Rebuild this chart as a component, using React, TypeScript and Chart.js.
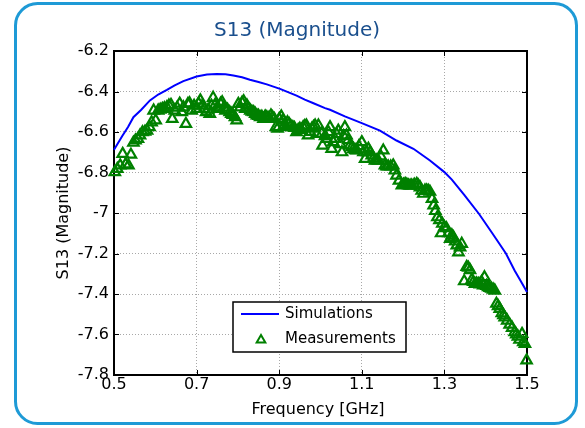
import React, { useEffect, useRef } from "react";
import { Chart, registerables } from "chart.js";
Chart.register(...registerables);

const titleText = "S13 (Magnitude)";
const xTitle = "Frequency [GHz]";
const yTitle = "S13 (Magnitude)";
const legendLabels = ["Simulations", "Measurements"];

const xTicks = [0.5, 0.7, 0.9, 1.1, 1.3, 1.5];
const yTicks = [-7.8, -7.6, -7.4, -7.2, -7.0, -6.8, -6.6, -6.4, -6.2];

const simFreq = [
  0.5, 0.52, 0.534, 0.547, 0.566, 0.587, 0.607, 0.628, 0.647, 0.668, 0.7, 0.725,
  0.749, 0.77, 0.789, 0.81, 0.829, 0.85, 0.87, 0.902, 0.942, 0.962, 0.983, 1.011,
  1.023, 1.059, 1.1, 1.144, 1.184, 1.225, 1.265, 1.3, 1.318, 1.348, 1.384, 1.416,
  1.449, 1.47, 1.483, 1.5,
];
const simVal = [
  -6.688, -6.62, -6.575, -6.527, -6.49, -6.444, -6.415, -6.392, -6.37, -6.349, -6.326, -6.316,
  -6.313, -6.315, -6.321, -6.33, -6.342, -6.353, -6.365, -6.387, -6.42, -6.44, -6.458, -6.482,
  -6.49, -6.523, -6.556, -6.593, -6.642, -6.683, -6.741, -6.798, -6.835, -6.91, -7.005, -7.1,
  -7.2, -7.284, -7.33, -7.39,
];

const measFreq = [
  0.502, 0.508, 0.515, 0.521, 0.528, 0.535, 0.541, 0.547, 0.552, 0.558, 0.563, 0.569,
  0.575, 0.58, 0.586, 0.591, 0.596, 0.601, 0.607, 0.612, 0.617, 0.622, 0.628, 0.633,
  0.638, 0.641, 0.647, 0.653, 0.659, 0.664, 0.668, 0.674, 0.679, 0.683, 0.688, 0.694,
  0.7, 0.705, 0.709, 0.714, 0.718, 0.723, 0.728, 0.732, 0.736, 0.74, 0.745, 0.75,
  0.754, 0.758, 0.762, 0.766, 0.77, 0.775, 0.78, 0.784, 0.788, 0.793, 0.797, 0.801,
  0.806, 0.81, 0.814, 0.818, 0.822, 0.826, 0.83, 0.834, 0.838, 0.842, 0.846, 0.85,
  0.854, 0.858, 0.862, 0.866, 0.87, 0.875, 0.88, 0.884, 0.888, 0.892, 0.896, 0.9,
  0.905, 0.909, 0.912, 0.916, 0.92, 0.924, 0.928, 0.933, 0.937, 0.942, 0.946, 0.95,
  0.954, 0.958, 0.962, 0.966, 0.97, 0.975, 0.979, 0.983, 0.987, 0.991, 0.995, 1.003,
  1.005, 1.011, 1.015, 1.019, 1.023, 1.027, 1.031, 1.035, 1.039, 1.043, 1.048, 1.052,
  1.056, 1.059, 1.063, 1.067, 1.071, 1.076, 1.08, 1.084, 1.088, 1.093, 1.1, 1.104,
  1.108, 1.112, 1.116, 1.12, 1.124, 1.128, 1.132, 1.136, 1.14, 1.146, 1.152, 1.156,
  1.16, 1.164, 1.17, 1.176, 1.18, 1.184, 1.19, 1.197, 1.201, 1.205, 1.209, 1.213,
  1.217, 1.221, 1.227, 1.233, 1.237, 1.241, 1.245, 1.249, 1.253, 1.257, 1.261, 1.265,
  1.27, 1.274, 1.278, 1.283, 1.288, 1.292, 1.295, 1.3, 1.305, 1.31, 1.314, 1.318,
  1.322, 1.326, 1.33, 1.334, 1.338, 1.342, 1.348, 1.354, 1.358, 1.362, 1.366, 1.37,
  1.374, 1.378, 1.382, 1.386, 1.39, 1.394, 1.397, 1.402, 1.406, 1.41, 1.414, 1.418,
  1.422, 1.426, 1.43, 1.434, 1.439, 1.443, 1.446, 1.452, 1.458, 1.464, 1.47, 1.474,
  1.478, 1.482, 1.488, 1.491, 1.495, 1.499,
];
const measVal = [
  -6.798, -6.782, -6.765, -6.708, -6.76, -6.765, -6.712, -6.653, -6.642, -6.634, -6.617, -6.601,
  -6.598, -6.593, -6.576, -6.552, -6.494, -6.543, -6.494, -6.49, -6.486, -6.482, -6.478, -6.469,
  -6.466, -6.535, -6.494, -6.48, -6.46, -6.502, -6.478, -6.56, -6.461, -6.458, -6.494, -6.47,
  -6.486, -6.46, -6.444, -6.47, -6.486, -6.502, -6.49, -6.51, -6.47, -6.431, -6.465, -6.478,
  -6.486, -6.46, -6.453, -6.48, -6.494, -6.49, -6.502, -6.51, -6.515, -6.527, -6.543, -6.461,
  -6.478, -6.455, -6.448, -6.486, -6.469, -6.485, -6.494, -6.5, -6.502, -6.51, -6.518, -6.52,
  -6.527, -6.525, -6.535, -6.523, -6.527, -6.53, -6.518, -6.527, -6.535, -6.576, -6.584, -6.535,
  -6.523, -6.543, -6.568, -6.576, -6.552, -6.56, -6.57, -6.576, -6.58, -6.601, -6.59, -6.584,
  -6.59, -6.576, -6.57, -6.568, -6.617, -6.6, -6.584, -6.575, -6.568, -6.609, -6.568, -6.609,
  -6.667, -6.62, -6.634, -6.6, -6.576, -6.683, -6.65, -6.634, -6.61, -6.593, -6.66, -6.7,
  -6.62, -6.576, -6.617, -6.64, -6.667, -6.675, -6.683, -6.69, -6.691, -6.67, -6.65, -6.7,
  -6.733, -6.7, -6.683, -6.7, -6.716, -6.73, -6.741, -6.74, -6.741, -6.72, -6.691, -6.765,
  -6.77, -6.77, -6.77, -6.765, -6.79, -6.815, -6.84, -6.864, -6.86, -6.856, -6.86, -6.864,
  -6.865, -6.864, -6.86, -6.856, -6.864, -6.873, -6.89, -6.905, -6.889, -6.889, -6.89, -6.895,
  -6.93, -6.963, -6.99, -7.021, -7.035, -7.1, -7.053, -7.07, -7.075, -7.1, -7.128, -7.11,
  -7.12, -7.14, -7.16, -7.194, -7.17, -7.152, -7.337, -7.266, -7.27, -7.282, -7.33, -7.34,
  -7.35, -7.348, -7.35, -7.352, -7.34, -7.358, -7.317, -7.36, -7.366, -7.37, -7.374, -7.378,
  -7.383, -7.448, -7.46, -7.473, -7.495, -7.505, -7.515, -7.531, -7.551, -7.567, -7.589, -7.6,
  -7.61, -7.626, -7.597, -7.638, -7.646, -7.728,
];

const W = 585;
const H = 428;
const FONT = "'DejaVu Sans', sans-serif";
const PLOT_LEFT = 114;
const PLOT_RIGHT = 527;
const PLOT_TOP = 51;
const PLOT_BOTTOM = 375;

const fmt = (v: number) => String(Number(v.toFixed(1)));

export default function App() {
  const ref = useRef<HTMLCanvasElement>(null);

  useEffect(() => {
    const canvas = ref.current;
    if (!canvas) return;

    const deco = {
      id: "deco",
      beforeDraw(chart: any) {
        const ctx = chart.ctx;
        ctx.save();
        ctx.fillStyle = "#ffffff";
        ctx.fillRect(0, 0, W, H);
        ctx.strokeStyle = "#1e9ad6";
        ctx.lineWidth = 3;
        ctx.beginPath();
        (ctx as any).roundRect(15.5, 3.5, 561, 420, 22);
        ctx.stroke();
        ctx.restore();
      },
      beforeDatasetsDraw(chart: any) {
        const ctx = chart.ctx;
        const { left, right, top, bottom } = chart.chartArea;
        const xs = chart.scales.x;
        const ys = chart.scales.y;
        ctx.save();
        ctx.strokeStyle = "#000";
        ctx.lineWidth = 1;
        const tl = 5;
        ctx.beginPath();
        for (const v of xTicks) {
          const px = Math.round(xs.getPixelForValue(v)) + 0.5;
          ctx.moveTo(px, bottom);
          ctx.lineTo(px, bottom - tl);
          ctx.moveTo(px, top);
          ctx.lineTo(px, top + tl);
        }
        for (const v of yTicks) {
          const py = Math.round(ys.getPixelForValue(v)) + 0.5;
          ctx.moveTo(left, py);
          ctx.lineTo(left + tl, py);
          ctx.moveTo(right, py);
          ctx.lineTo(right - tl, py);
        }
        ctx.stroke();
        ctx.lineWidth = 2;
        ctx.strokeRect(left, top, right - left, bottom - top);
        ctx.restore();
      },
      afterDatasetsDraw(chart: any) {
        const ctx = chart.ctx;
        ctx.save();
        // title
        ctx.fillStyle = "#1a4f8d";
        ctx.font = `20px ${FONT}`;
        ctx.textAlign = "center";
        ctx.textBaseline = "middle";
        ctx.fillText(titleText, 297, 31);
        // axis titles
        ctx.fillStyle = "#000";
        ctx.font = `16px ${FONT}`;
        ctx.fillText(xTitle, 318, 410);
        ctx.save();
        ctx.translate(64, 213);
        ctx.rotate(-Math.PI / 2);
        ctx.fillText(yTitle, 0, 0);
        ctx.restore();
        // legend
        const lx = 233, ly = 302, lw = 173, lh = 50;
        ctx.fillStyle = "#fff";
        ctx.fillRect(lx, ly, lw, lh);
        ctx.strokeStyle = "#000";
        ctx.lineWidth = 1.5;
        ctx.strokeRect(lx, ly, lw, lh);
        ctx.strokeStyle = "#0000ff";
        ctx.lineWidth = 2;
        ctx.beginPath();
        ctx.moveTo(241, 314);
        ctx.lineTo(279, 314);
        ctx.stroke();
        ctx.strokeStyle = "#008000";
        ctx.lineWidth = 2;
        const r = 5;
        const tx = 261, ty = 340;
        ctx.beginPath();
        ctx.moveTo(tx, ty - r);
        ctx.lineTo(tx + r * Math.sin((2 * Math.PI) / 3), ty + r / 2);
        ctx.lineTo(tx - r * Math.sin((2 * Math.PI) / 3), ty + r / 2);
        ctx.closePath();
        ctx.stroke();
        ctx.fillStyle = "#000";
        ctx.font = `15px ${FONT}`;
        ctx.textAlign = "left";
        ctx.fillText(legendLabels[0], 285, 314);
        ctx.fillText(legendLabels[1], 285, 339);
        ctx.restore();
      },
    };

    const chart = new Chart(canvas, {
      type: "scatter",
      data: {
        datasets: [
          {
            label: legendLabels[0],
            data: simFreq.map((x, i) => ({ x, y: simVal[i] })),
            showLine: true,
            borderColor: "#0000ff",
            backgroundColor: "#0000ff",
            borderWidth: 2,
            pointRadius: 0,
            tension: 0,
            fill: false,
            clip: false,
          },
          {
            label: legendLabels[1],
            data: measFreq.map((x, i) => ({ x, y: measVal[i] })),
            showLine: false,
            pointStyle: "triangle",
            pointRadius: 6,
            borderColor: "#008000",
            backgroundColor: "rgba(0,0,0,0)",
            pointBorderWidth: 2.2,
            borderWidth: 2.2,
            clip: false,
          },
        ],
      } as any,
      options: {
        animation: false,
        responsive: false,
        maintainAspectRatio: false,
        events: [],
        layout: { padding: { left: 0, right: W - PLOT_RIGHT, top: PLOT_TOP, bottom: 0 } },
        plugins: {
          legend: { display: false },
          title: { display: false },
          tooltip: { enabled: false },
        },
        scales: {
          x: {
            type: "linear",
            min: 0.5,
            max: 1.5,
            afterBuildTicks: (s: any) => {
              s.ticks = xTicks.map((v) => ({ value: v }));
            },
            afterFit: (s: any) => {
              s.height = H - PLOT_BOTTOM;
            },
            ticks: {
              callback: (v: any) => fmt(Number(v)),
              font: { family: FONT, size: 16 },
              color: "#000",
              padding: 0,
              maxRotation: 0,
              autoSkip: false,
            },
            grid: { color: "#a8a8a8", lineWidth: 1, drawTicks: false },
            border: { display: false, dash: [1, 2] },
          },
          y: {
            type: "linear",
            min: -7.8,
            max: -6.2,
            afterBuildTicks: (s: any) => {
              s.ticks = yTicks.map((v) => ({ value: v }));
            },
            afterFit: (s: any) => {
              s.width = PLOT_LEFT;
            },
            ticks: {
              callback: (v: any) => fmt(Number(v)),
              font: { family: FONT, size: 16 },
              color: "#000",
              padding: 5,
              autoSkip: false,
            },
            grid: { color: "#a8a8a8", lineWidth: 1, drawTicks: false },
            border: { display: false, dash: [1, 2] },
          },
        },
      } as any,
      plugins: [deco],
    });

    return () => chart.destroy();
  }, []);

  return (
    <div style={{ position: "fixed", left: 0, top: 0, width: W, height: H, background: "#fff" }}>
      <canvas ref={ref} width={W} height={H} style={{ width: W, height: H, display: "block" }} />
    </div>
  );
}
